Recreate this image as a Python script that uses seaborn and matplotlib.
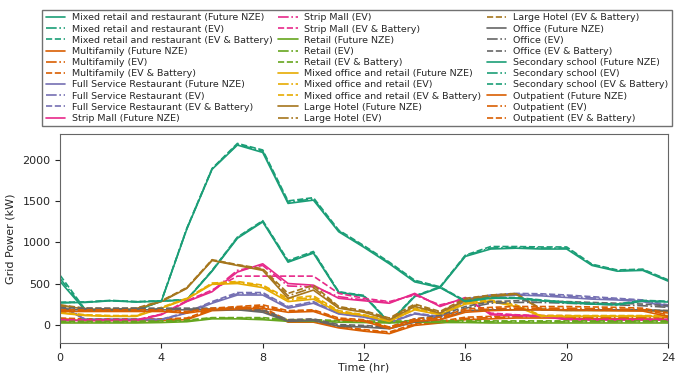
import seaborn as sns
import matplotlib
matplotlib.use("Agg")
import matplotlib.pyplot as plt

hours = list(range(25))

# Mixed retail and restaurant
mrr_nze = [525, 170, 170, 170, 285, 300, 650, 1050, 1250, 760, 870, 390, 345, 20, 340, 450, 830, 920, 930, 920, 920, 720, 650, 660, 530]
mrr_ev = [560, 175, 172, 172, 287, 302, 655, 1058, 1258, 768, 878, 395, 350, 25, 345, 455, 838, 932, 940, 932, 932, 728, 658, 668, 538]
mrr_evb = [600, 180, 175, 175, 290, 305, 660, 1065, 1265, 780, 890, 400, 355, 30, 350, 460, 845, 950, 950, 945, 945, 735, 665, 675, 545]

# Multifamily
mf_nze = [60, 50, 50, 50, 50, 60, 170, 180, 170, 30, 30, -40, -80, -110, -10, 20, 60, 70, 80, 80, 80, 70, 70, 70, 60]
mf_ev = [70, 60, 60, 60, 60, 70, 180, 195, 190, 40, 40, -30, -70, -100, 0, 30, 75, 85, 95, 95, 95, 85, 85, 85, 75]
mf_evb = [80, 70, 70, 70, 70, 80, 190, 210, 210, 50, 50, -20, -60, -90, 10, 40, 90, 100, 110, 110, 110, 100, 100, 100, 90]

# Full Service Restaurant
fsr_nze = [230, 60, 60, 60, 60, 140, 260, 360, 360, 200, 260, 130, 90, 20, 130, 90, 290, 340, 360, 350, 330, 310, 300, 280, 220]
fsr_ev = [235, 62, 62, 62, 62, 145, 270, 375, 375, 210, 270, 135, 95, 25, 135, 95, 300, 350, 370, 360, 345, 325, 310, 290, 230]
fsr_evb = [240, 65, 65, 65, 65, 150, 280, 390, 390, 220, 280, 140, 100, 30, 140, 100, 310, 360, 380, 375, 360, 340, 320, 300, 240]

# Strip Mall
sm_nze = [50, 50, 50, 50, 120, 280, 400, 640, 740, 500, 480, 320, 290, 260, 380, 220, 330, 120, 110, 100, 60, 55, 55, 55, 55]
sm_ev = [55, 55, 55, 55, 125, 285, 410, 660, 720, 470, 460, 340, 300, 270, 370, 230, 320, 130, 115, 105, 65, 60, 60, 60, 60]
sm_evb = [60, 58, 58, 58, 128, 290, 420, 590, 590, 590, 590, 380, 320, 280, 360, 240, 310, 140, 120, 110, 70, 65, 65, 65, 65]

# Retail
rt_nze = [20, 20, 20, 20, 25, 35, 70, 70, 60, 40, 40, 30, 25, 20, 30, 25, 25, 20, 20, 20, 20, 20, 20, 20, 20]
rt_ev = [30, 30, 30, 30, 35, 45, 80, 80, 75, 50, 50, 40, 35, 30, 40, 35, 40, 35, 35, 35, 35, 35, 35, 35, 35]
rt_evb = [40, 40, 40, 40, 45, 55, 85, 85, 85, 60, 60, 50, 45, 40, 50, 45, 50, 45, 45, 45, 45, 45, 45, 45, 45]

# Mixed office and retail
mor_nze = [140, 110, 100, 100, 200, 310, 490, 500, 450, 280, 310, 150, 110, 40, 180, 120, 250, 280, 220, 100, 100, 100, 100, 100, 100]
mor_ev = [145, 115, 105, 105, 205, 315, 500, 515, 470, 300, 330, 160, 115, 45, 190, 125, 260, 290, 230, 105, 105, 105, 105, 105, 105]
mor_evb = [150, 120, 110, 110, 210, 320, 505, 525, 480, 320, 350, 170, 120, 50, 200, 130, 270, 300, 240, 110, 110, 110, 110, 110, 110]

# Large Hotel
lh_nze = [230, 190, 185, 190, 280, 440, 780, 720, 660, 320, 420, 200, 150, 60, 220, 140, 300, 340, 370, 180, 170, 170, 170, 170, 160]
lh_ev = [235, 195, 190, 195, 285, 445, 785, 725, 670, 350, 450, 210, 160, 70, 235, 150, 310, 350, 375, 185, 175, 175, 175, 175, 165]
lh_evb = [240, 200, 195, 200, 290, 450, 790, 730, 680, 380, 480, 220, 170, 80, 250, 160, 320, 360, 380, 190, 180, 180, 180, 180, 170]

# Office
of_nze = [180, 180, 180, 180, 180, 180, 180, 180, 150, 40, 50, -20, -30, -50, 30, 60, 170, 180, 180, 180, 180, 180, 180, 180, 170]
of_ev = [190, 190, 190, 190, 190, 190, 190, 190, 165, 50, 60, -10, -20, -40, 50, 90, 200, 260, 270, 270, 260, 250, 240, 230, 210]
of_evb = [205, 200, 200, 200, 200, 200, 200, 200, 180, 60, 70, 0, -10, -30, 70, 110, 220, 280, 290, 290, 280, 270, 260, 250, 230]

# Secondary school
ss_nze = [265, 270, 290, 275, 285, 1160, 1890, 2185, 2095, 1475, 1515, 1130, 940, 740, 520, 450, 280, 320, 320, 290, 265, 250, 240, 285, 275]
ss_ev = [268, 273, 292, 278, 288, 1165, 1895, 2195, 2110, 1490, 1530, 1140, 950, 750, 530, 455, 285, 325, 325, 295, 270, 255, 245, 290, 280]
ss_evb = [272, 276, 295, 280, 290, 1170, 1900, 2205, 2125, 1505, 1545, 1150, 960, 760, 540, 460, 290, 330, 330, 300, 275, 260, 250, 295, 285]

# Outpatient
op_nze = [160, 160, 160, 160, 160, 140, 180, 190, 200, 150, 160, 60, 40, -50, 40, 60, 150, 170, 180, 180, 180, 175, 170, 165, 100]
op_ev = [170, 170, 170, 170, 170, 150, 190, 205, 220, 160, 170, 70, 50, -40, 55, 75, 170, 190, 200, 200, 200, 195, 190, 185, 120]
op_evb = [180, 180, 180, 180, 180, 160, 200, 220, 240, 170, 180, 80, 60, -30, 70, 90, 190, 210, 220, 220, 220, 215, 210, 200, 140]

buildings = [
    ("Mixed retail and restaurant", [mrr_nze, mrr_ev, mrr_evb]),
    ("Multifamily", [mf_nze, mf_ev, mf_evb]),
    ("Full Service Restaurant", [fsr_nze, fsr_ev, fsr_evb]),
    ("Strip Mall", [sm_nze, sm_ev, sm_evb]),
    ("Retail", [rt_nze, rt_ev, rt_evb]),
    ("Mixed office and retail", [mor_nze, mor_ev, mor_evb]),
    ("Large Hotel", [lh_nze, lh_ev, lh_evb]),
    ("Office", [of_nze, of_ev, of_evb]),
    ("Secondary school", [ss_nze, ss_ev, ss_evb]),
    ("Outpatient", [op_nze, op_ev, op_evb]),
]
scenarios = ["Future NZE", "EV", "EV & Battery"]
styles = ["-", "-.", "--"]

sns.set_style("ticks")
colores = sns.color_palette("Dark2", 8)

fig = plt.figure(figsize=(6.83, 3.73), dpi=100)
ax = fig.add_axes([0.088, 0.08, 0.89, 0.561])

for i, (nombre, series) in enumerate(buildings):
    for valores, escenario, estilo in zip(series, scenarios, styles):
        sns.lineplot(x=hours, y=valores, ax=ax, color=colores[i % 8],
                     linestyle=estilo, linewidth=1.2,
                     label=f"{nombre} ({escenario})")

ax.set_xlim(0, 24)
ax.set_xticks([0, 4, 8, 12, 16, 20, 24])
ax.set_yticks([0, 500, 1000, 1500, 2000])
ax.set_xlabel("Time (hr)", fontsize=8, labelpad=0)
ax.set_ylabel("Grid Power (kW)", fontsize=8, labelpad=5)
ax.tick_params(labelsize=8)
for sp in ax.spines.values():
    sp.set_color("0.4")

ax.legend(loc="upper center", bbox_to_anchor=(0.5226, 0.973), bbox_transform=fig.transFigure,
          ncol=3, fontsize=6.8, fancybox=False, edgecolor="0.3",
          handlelength=2.1, labelspacing=0.23, columnspacing=0.55, handletextpad=0.7,
          borderpad=0.35, borderaxespad=0)

plt.savefig("out.png", dpi=100)
